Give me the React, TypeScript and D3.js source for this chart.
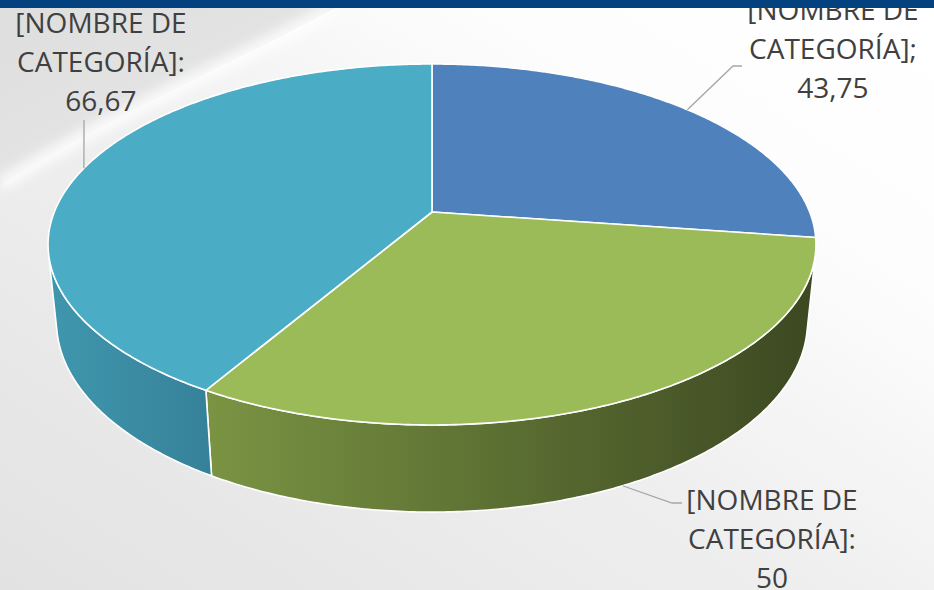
import React from "react";
import * as d3 from "d3";

const categories = ["[NOMBRE DE CATEGORÍA]", "[NOMBRE DE CATEGORÍA]", "[NOMBRE DE CATEGORÍA]"];
const values = [43.75, 50, 66.67];
const valueLabels = ["43,75", "50", "66,67"];
const separators = [";", ":", ":"];
const topColors = ["#4f81bd", "#9bbb59", "#4bacc6"];
const wallLight = ["#456fa3", "#7a9443", "#3f97ad"];
const wallDark = ["#34557d", "#3c4821", "#36819a"];

const W = 934;
const H = 590;

// camera projection of a unit-radius pie (3D, perspective)
const sinA = 0.4624;
const cosA = Math.sqrt(1 - sinA * sinA);
const DIST = 4.93;
const FOC = 1862;
const X0 = 432;
const Y0 = 212;
const DEPTH = 0.233;

function proj(phi: number, y: number): [number, number] {
  const x = Math.sin(phi);
  const z = -Math.cos(phi);
  const dep = DIST - (y * sinA + z * cosA);
  return [X0 + (FOC * x) / dep, Y0 - (FOC * (y * cosA - z * sinA)) / dep];
}

function arcPts(a: number, b: number, y: number): [number, number][] {
  const n = Math.max(2, Math.ceil(Math.abs(b - a) / 0.01));
  const pts: [number, number][] = [];
  for (let i = 0; i <= n; i++) pts.push(proj(a + ((b - a) * i) / n, y));
  return pts;
}

const line = d3.line();

// visible wall range: cos(phi) < -1/(D cosA)
const visLim = Math.acos(-1 / (DIST * cosA));
const visStart = visLim;
const visEnd = 2 * Math.PI - visLim;

const labelPos = [
  { cx: 833, base: 20, elbow: [733, 66], end: [742, 66], onBottom: false },
  { cx: 772, base: 510, elbow: [672, 503], end: [682, 503], onBottom: true },
  { cx: 101, base: 33, elbow: [84, 120], end: [84, 120], onBottom: false },
];

export default function App() {
  const arcs = d3.pie<number>().sort(null).value((d) => d)(values);

  const walls = arcs.map((a, i) => {
    const s = Math.max(a.startAngle, visStart);
    const e = Math.min(a.endAngle, visEnd);
    if (e <= s) return null;
    const top = arcPts(s, e, 0);
    const bot = arcPts(e, s, -DEPTH);
    return { i, d: line([...top, ...bot])! + "Z" };
  });

  const tops = arcs.map((a, i) => {
    const pts = arcPts(a.startAngle, a.endAngle, 0);
    return { i, d: line([[X0, Y0], ...pts])! + "Z" };
  });

  const lineH = 38.5;

  return (
    <div style={{ position: "fixed", left: 0, top: 0, width: W, height: H }}>
      <svg width={W} height={H} style={{ display: "block" }}>
        <defs>
          <linearGradient id="bg" x1="0" y1="1" x2="1" y2="0">
            <stop offset="0" stopColor="#e2e2e2" />
            <stop offset="0.45" stopColor="#efefef" />
            <stop offset="0.75" stopColor="#fdfdfd" />
            <stop offset="1" stopColor="#ffffff" />
          </linearGradient>
          <linearGradient id="swoosh" x1="0" y1="0" x2="1" y2="1">
            <stop offset="0" stopColor="#dedede" />
            <stop offset="1" stopColor="#e9e9e9" />
          </linearGradient>
          {wallLight.map((c, i) => (
            <linearGradient key={i} id={"wall" + i} x1="0" y1="0" x2="1" y2="0">
              <stop offset="0" stopColor={c} />
              <stop offset="1" stopColor={wallDark[i]} />
            </linearGradient>
          ))}
          <filter id="blur" x="-20%" y="-20%" width="140%" height="140%">
            <feGaussianBlur stdDeviation="6" />
          </filter>
        </defs>
        <rect x={0} y={0} width={W} height={H} fill="url(#bg)" />
        <path d="M0,8 L335,8 C240,60 120,110 0,185 Z" fill="url(#swoosh)" />
        <path
          d="M335,8 C240,60 120,110 0,185"
          fill="none"
          stroke="#ffffff"
          strokeWidth={14}
          opacity={0.85}
          filter="url(#blur)"
        />

        {walls.map((w) =>
          w ? (
            <path
              key={"w" + w.i}
              d={w.d}
              fill={`url(#wall${w.i})`}
              stroke="#ffffff"
              strokeWidth={1.6}
              strokeLinejoin="round"
            />
          ) : null
        )}
        {tops.map((t) => (
          <path
            key={"t" + t.i}
            d={t.d}
            fill={topColors[t.i]}
            stroke="#ffffff"
            strokeWidth={1.6}
            strokeLinejoin="round"
          />
        ))}

        {arcs.map((a, i) => {
          const mid = (a.startAngle + a.endAngle) / 2;
          const lp = labelPos[i];
          const p0 = proj(mid, lp.onBottom ? -DEPTH : 0);
          return (
            <path
              key={"l" + i}
              d={line([p0, lp.elbow as [number, number], lp.end as [number, number]])!}
              fill="none"
              stroke="#a6a6a6"
              strokeWidth={1.3}
            />
          );
        })}

        {arcs.map((a, i) => {
          const lp = labelPos[i];
          const words = categories[i].split(" ");
          const l1 = words.slice(0, 2).join(" ");
          const l2 = words.slice(2).join(" ") + separators[i];
          return (
            <text
              key={"tx" + i}
              x={lp.cx}
              textAnchor="middle"
              fontFamily="'Open Sans', sans-serif"
              fontSize={28}
              fill="#404040"
            >
              <tspan x={lp.cx} y={lp.base}>{l1}</tspan>
              <tspan x={lp.cx} y={lp.base + lineH}>{l2}</tspan>
              <tspan x={lp.cx} y={lp.base + 2 * lineH + 1}>{valueLabels[i]}</tspan>
            </text>
          );
        })}

        <rect x={0} y={0} width={W} height={8} fill="#04427f" />
      </svg>
    </div>
  );
}
